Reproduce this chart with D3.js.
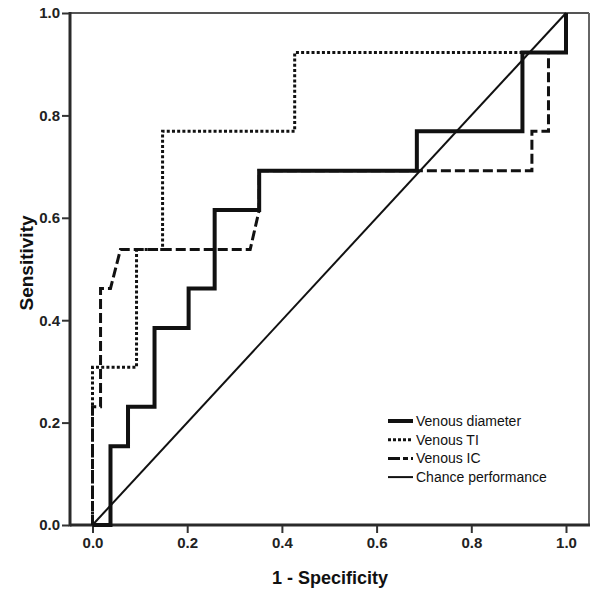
<!DOCTYPE html>
<html>
<head>
<meta charset="utf-8">
<script src="https://cdn.jsdelivr.net/npm/d3@7"></script>
<style>
  body { margin: 0; background: #fff; }
  text { font-family: "Liberation Sans", Arial, sans-serif; }
</style>
</head>
<body>
<div id="chart"></div>
<script>
// ROC curves
var diamFpr = [0, 0.038, 0.038, 0.075, 0.075, 0.131, 0.131, 0.203, 0.203, 0.258, 0.258, 0.352, 0.352, 0.685, 0.685, 0.908, 0.908, 1, 1];
var diamTpr = [0, 0, 0.154, 0.154, 0.231, 0.231, 0.385, 0.385, 0.462, 0.462, 0.615, 0.615, 0.692, 0.692, 0.769, 0.769, 0.923, 0.923, 1];

var tiFpr = [0, 0, 0.093, 0.093, 0.148, 0.148, 0.427, 0.427, 1, 1];
var tiTpr = [0, 0.308, 0.308, 0.538, 0.538, 0.769, 0.769, 0.923, 0.923, 1];

var icFpr = [0, 0, 0.017, 0.017, 0.038, 0.059, 0.333, 0.352, 0.352, 0.928, 0.928, 0.963, 0.963, 1, 1];
var icTpr = [0, 0.231, 0.231, 0.462, 0.462, 0.538, 0.538, 0.615, 0.692, 0.692, 0.769, 0.769, 0.923, 0.923, 1];

var chanceFpr = [0, 1];
var chanceTpr = [0, 1];

var ticks = [0, 0.2, 0.4, 0.6, 0.8, 1.0];
var legendLabels = ["Venous diameter", "Venous TI", "Venous IC", "Chance performance"];

var svgWidth = 600, svgHeight = 594;
var frame = {left: 70, right: 589, top: 13, bottom: 525};

var svg = d3.select("#chart").append("svg")
    .attr("width", svgWidth)
    .attr("height", svgHeight)

var x = d3.scaleLinear().domain([0, 1]).range([92.5, 566]);
var y = d3.scaleLinear().domain([0, 1]).range([frame.bottom, frame.top]);

// frame: left and bottom heavier, top and right lighter
var sides = [
    [frame.left, frame.top, frame.right, frame.top, "#555", 2],
    [frame.right, frame.top, frame.right, frame.bottom, "#666", 2],
    [frame.left, frame.bottom, frame.right + 1, frame.bottom, "#2a2a2a", 3],
    [frame.left, frame.top - 1, frame.left, frame.bottom + 1.5, "#2a2a2a", 3]
];
sides.forEach(s => {
    svg.append("line")
        .attr("x1", s[0]).attr("y1", s[1])
        .attr("x2", s[2]).attr("y2", s[3])
        .attr("stroke", s[4])
        .attr("stroke-width", s[5])
});

// axes
var yAxis = svg.append("g")
    .attr("transform", `translate(${frame.left - 1}, 0)`)
    .call(d3.axisLeft(y).tickValues(ticks).tickFormat(d3.format(".1f")).tickSize(7).tickPadding(2).tickSizeOuter(0))
yAxis.select(".domain").remove()

var xAxis = svg.append("g")
    .attr("transform", `translate(0, ${frame.bottom + 1})`)
    .call(d3.axisBottom(x).tickValues(ticks).tickFormat(d3.format(".1f")).tickSize(7).tickPadding(4).tickSizeOuter(0))
xAxis.select(".domain").remove()

svg.selectAll(".tick line").attr("stroke", "#333").attr("stroke-width", 2)
svg.selectAll(".tick text")
    .attr("fill", "#222")
    .style("font-size", "15px")
    .style("font-weight", "bold")
    .style("font-family", "'Liberation Sans', Arial, sans-serif")

svg.append("text")
    .attr("x", 330)
    .attr("y", 584)
    .attr("text-anchor", "middle")
    .style("font-size", "18px")
    .style("font-weight", "bold")
    .attr("fill", "#111")
    .text("1 - Specificity")

svg.append("text")
    .attr("transform", "translate(33, 263) rotate(-90)")
    .attr("text-anchor", "middle")
    .style("font-size", "19px")
    .style("font-weight", "bold")
    .attr("fill", "#111")
    .text("Sensitivity")

// curves
var line = d3.line()
    .x(d => x(d[0]))
    .y(d => y(d[1]))

var series = [
    {fpr: tiFpr, tpr: tiTpr, width: 3, dash: "3,2.2"},
    {fpr: icFpr, tpr: icTpr, width: 3, dash: "10,4"},
    {fpr: diamFpr, tpr: diamTpr, width: 4, dash: null},
    {fpr: chanceFpr, tpr: chanceTpr, width: 2, dash: null}
];

series.forEach(s => {
    svg.append("path")
        .datum(d3.zip(s.fpr, s.tpr))
        .attr("fill", "none")
        .attr("stroke", "#111")
        .attr("stroke-width", s.width)
        .attr("stroke-dasharray", s.dash)
        .attr("stroke-linejoin", "miter")
        .attr("d", line)
});

// legend
var legendStyles = [
    {width: 4, dash: null},
    {width: 3, dash: "3,2"},
    {width: 3, dash: "12,3,5,3"},
    {width: 2, dash: null}
];

var legend = svg.append("g")
    .attr("transform", "translate(388, 421)")

legendLabels.forEach((label, i) => {
    var row = legend.append("g").attr("transform", `translate(0, ${i * 18.7})`)
    row.append("line")
        .attr("x1", 0)
        .attr("x2", 25)
        .attr("stroke", "#111")
        .attr("stroke-width", legendStyles[i].width)
        .attr("stroke-dasharray", legendStyles[i].dash)
    row.append("text")
        .attr("x", 28)
        .attr("dy", "0.35em")
        .style("font-size", "14px")
        .attr("fill", "#111")
        .text(label)
});
</script>
</body>
</html>
